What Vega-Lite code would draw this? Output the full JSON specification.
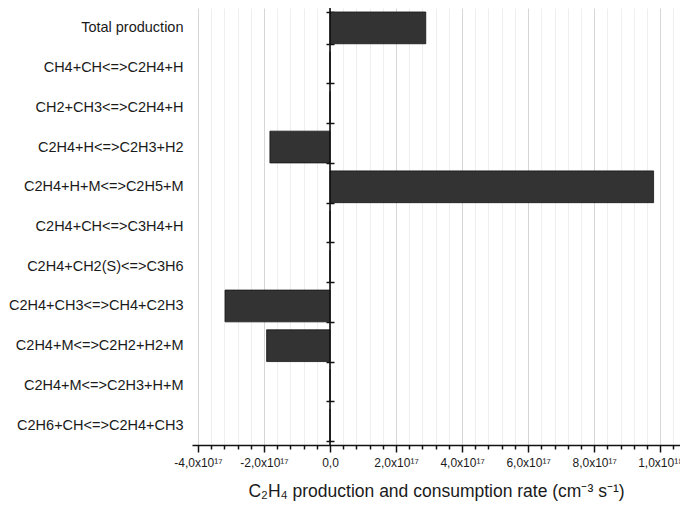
{
  "$schema": "https://vega.github.io/schema/vega-lite/v6.json",
  "width": 488,
  "height": 437,
  "autosize": {"type": "none"},
  "padding": {"left": 192, "top": 8, "right": 0, "bottom": 62},
  "background": "white",
  "config": {
    "view": {"stroke": null},
    "font": "Liberation Sans",
    "axis": {"labelFont": "Liberation Sans", "titleFont": "Liberation Sans"}
  },
  "data": {
    "values": [
      {"reaction": "Total production", "rate": 2.9e17},
      {"reaction": "CH4+CH<=>C2H4+H", "rate": 0},
      {"reaction": "CH2+CH3<=>C2H4+H", "rate": 0},
      {"reaction": "C2H4+H<=>C2H3+H2", "rate": -1.82e17},
      {"reaction": "C2H4+H+M<=>C2H5+M", "rate": 9.8e17},
      {"reaction": "C2H4+CH<=>C3H4+H", "rate": 0},
      {"reaction": "C2H4+CH2(S)<=>C3H6", "rate": 0},
      {"reaction": "C2H4+CH3<=>CH4+C2H3", "rate": -3.18e17},
      {"reaction": "C2H4+M<=>C2H2+H2+M", "rate": -1.92e17},
      {"reaction": "C2H4+M<=>C2H3+H+M", "rate": 0},
      {"reaction": "C2H6+CH<=>C2H4+CH3", "rate": 0}
    ]
  },
  "resolve": {"axis": {"x": "independent"}},
  "layer": [
    {
      "mark": {"type": "bar", "color": "#333333", "stroke": "#151515", "strokeWidth": 0.8},
      "encoding": {
        "y": {
          "field": "reaction",
          "type": "nominal",
          "sort": null,
          "scale": {"paddingInner": 0.2, "paddingOuter": 0.1},
          "axis": {
            "title": null,
            "orient": "left",
            "offset": -142,
            "domain": false,
            "tickBand": "extent",
            "tickSize": 8,
            "tickColor": "#111111",
            "tickWidth": 1.5,
            "labelPadding": 143,
            "labelFontSize": 14.5,
            "labelColor": "#1a1a1a",
            "labelLimit": 0,
            "grid": false
          }
        },
        "x": {
          "field": "rate",
          "type": "quantitative",
          "scale": {"domain": [-4.18e17, 1.06e18], "nice": false, "zero": false},
          "axis": {
            "orient": "bottom",
            "values": [-4e17, -2e17, 0, 2e17, 4e17, 6e17, 8e17, 1e18],
            "labelExpr": "datum.value == 0 ? '0,0' : (datum.value < 0 ? '-' : '') + (abs(datum.value) >= 1e18 ? replace(format(abs(datum.value) / 1e18, '.1f'), '.', ',') + 'x10¹⁸' : replace(format(abs(datum.value) / 1e17, '.1f'), '.', ',') + 'x10¹⁷')",
            "labelFontSize": 12,
            "labelColor": "#1a1a1a",
            "labelPadding": 5,
            "labelOverlap": false,
            "tickSize": 7,
            "tickWidth": 1.5,
            "tickColor": "#111111",
            "domain": false,
            "grid": true,
            "gridColor": "#d6d6d6",
            "gridWidth": 1,
            "title": "C₂H₄ production and consumption rate (cm⁻³ s⁻¹)",
            "titleFontSize": 17.5,
            "titleFontWeight": "normal",
            "titleColor": "#1a1a1a",
            "titlePadding": 14
          }
        }
      }
    },
    {
      "data": {"values": [{"zero": 0}]},
      "mark": {"type": "rule", "color": "#111111", "strokeWidth": 1.6},
      "encoding": {
        "x": {
          "field": "zero",
          "type": "quantitative",
          "axis": {
            "orient": "bottom",
            "values": [-3.6e17, -3.2e17, -2.8e17, -2.4e17, -1.6e17, -1.2e17, -0.8e17, -0.4e17, 0.4e17, 0.8e17, 1.2e17, 1.6e17, 2.4e17, 2.8e17, 3.2e17, 3.6e17, 4.4e17, 4.8e17, 5.2e17, 5.6e17, 6.4e17, 6.8e17, 7.2e17, 7.6e17, 8.4e17, 8.8e17, 9.2e17, 9.6e17, 1.04e18],
            "labels": false,
            "title": null,
            "tickSize": 4,
            "tickWidth": 1.5,
            "tickColor": "#111111",
            "domain": true,
            "domainColor": "#111111",
            "domainWidth": 1.6,
            "grid": true,
            "gridColor": "#eeeeee",
            "gridWidth": 1
          }
        }
      }
    }
  ]
}
